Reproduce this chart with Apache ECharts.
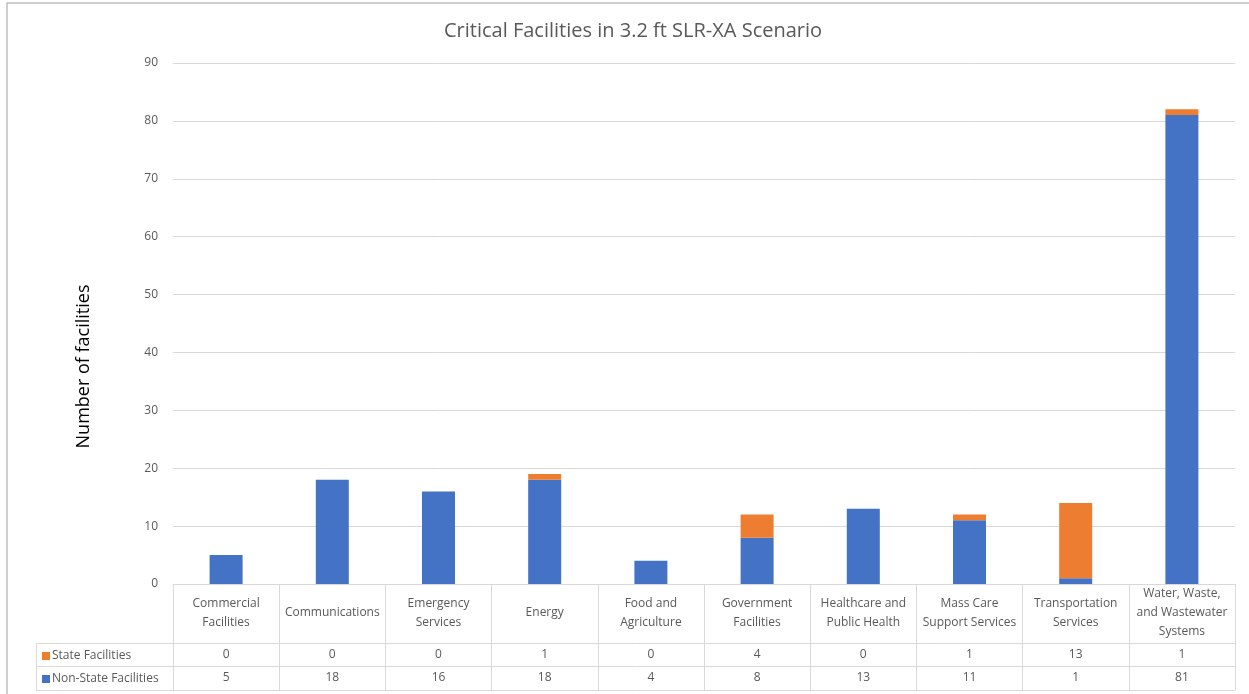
<!DOCTYPE html>
<html>
<head>
<meta charset="utf-8">
<script src="https://cdn.jsdelivr.net/npm/echarts@6/dist/echarts.min.js"></script>
<style>
  html, body { margin: 0; padding: 0; background: #fff; }
  #chart { width: 1249px; height: 694px; }
</style>
</head>
<body>
<div id="chart"></div>
<script>
// data
var categories = [
    'Commercial\nFacilities', 'Communications', 'Emergency\nServices', 'Energy',
    'Food and\nAgriculture', 'Government\nFacilities', 'Healthcare and\nPublic Health',
    'Mass Care\nSupport Services', 'Transportation\nServices', 'Water, Waste,\nand Wastewater\nSystems'
];
var stateVals = [0, 0, 0, 1, 0, 4, 0, 1, 13, 1];
var nonStateVals = [5, 18, 16, 18, 4, 8, 13, 11, 1, 81];
var yTicks = { min: 0, max: 90, step: 10 };

var font = 'Open Sans';
var grey = '#595959';
var lineCol = '#d9d9d9';

var chart = echarts.init(document.getElementById('chart'));

// table rows are just extra category axes under the plot
function rowAxis(vals, margin) {
    return {
        type: 'category',
        position: 'bottom',
        data: vals.map(String),
        axisLine: { show: false },
        axisTick: { show: false },
        axisLabel: {
            margin: margin, verticalAlign: 'middle', interval: 0,
            color: grey, fontFamily: font, fontSize: 12
        }
    };
}

function hLine(x1, x2, y) {
    return { type: 'line', silent: true, shape: { x1: x1, y1: y, x2: x2, y2: y },
             style: { stroke: lineCol, lineWidth: 1 } };
}

var option = {
    animation: false,
    title: {
        text: 'Critical Facilities in 3.2 ft SLR-XA Scenario',
        left: 439, top: 16,
        textStyle: { color: grey, fontFamily: font, fontSize: 20, fontWeight: 'normal' }
    },
    legend: {
        data: ['State Facilities', 'Non-State Facilities'],
        orient: 'vertical',
        left: 37, top: 644,
        icon: 'rect', itemWidth: 8, itemHeight: 8, itemGap: 9,
        selectedMode: false,
        textStyle: { color: grey, fontFamily: font, fontSize: 12, lineHeight: 14, padding: [0, 0, 0, -3] }
    },
    grid: { left: 173, right: 14, top: 63, bottom: 110 },
    xAxis: [
        {
            type: 'category',
            data: categories,
            axisLine: { lineStyle: { color: lineCol } },
            axisTick: { show: true, length: 106, lineStyle: { color: lineCol } },
            axisLabel: {
                margin: 29, verticalAlign: 'middle', interval: 0, lineHeight: 19,
                color: grey, fontFamily: font, fontSize: 12
            }
        },
        rowAxis(stateVals, 71),
        rowAxis(nonStateVals, 94)
    ],
    yAxis: {
        type: 'value',
        min: yTicks.min, max: yTicks.max, interval: yTicks.step,
        name: 'Number of facilities',
        nameLocation: 'middle', nameGap: 80,
        nameTextStyle: { color: '#000', fontFamily: font, fontSize: 18, padding: [0, 86, 0, 0] },
        axisLine: { show: false },
        axisTick: { show: false },
        axisLabel: { margin: 15, color: grey, fontFamily: font, fontSize: 12 },
        splitLine: { lineStyle: { color: lineCol } }
    },
    series: [
        {
            name: 'Non-State Facilities', type: 'bar', stack: 'all',
            barWidth: 33, itemStyle: { color: '#4472C4' },
            data: nonStateVals
        },
        {
            name: 'State Facilities', type: 'bar', stack: 'all',
            barWidth: 33, itemStyle: { color: '#ED7D31' },
            data: stateVals
        }
    ],
    graphic: [
        { type: 'rect', silent: true, shape: { x: 7, y: 3, width: 1300, height: 720 },
          style: { fill: null, stroke: '#bfbfbf', lineWidth: 1.5 } },
        hLine(36, 1235, 643.5),
        hLine(36, 1235, 666.5),
        hLine(36, 1235, 690.5),
        { type: 'line', silent: true, shape: { x1: 36.5, y1: 643, x2: 36.5, y2: 691 },
          style: { stroke: lineCol, lineWidth: 1 } }
    ]
};

chart.setOption(option);
</script>
</body>
</html>
